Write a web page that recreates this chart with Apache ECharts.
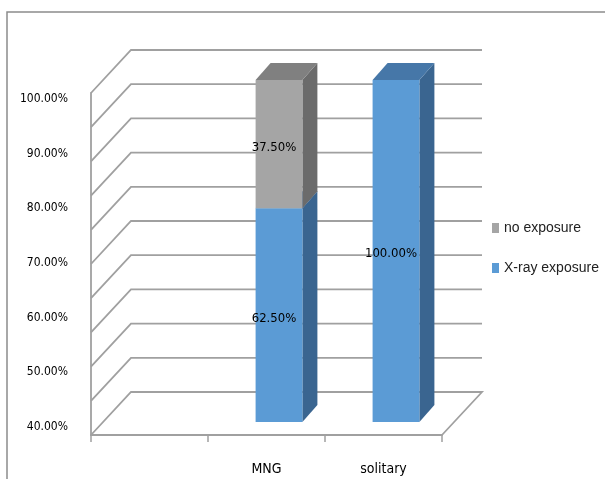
<!DOCTYPE html>
<html>
<head>
<meta charset="utf-8">
<script src="https://cdn.jsdelivr.net/npm/echarts@6/dist/echarts.min.js"></script>
<style>html,body{margin:0;padding:0;background:#fff;}#c{width:605px;height:479px;}</style>
</head>
<body>
<div id="c"></div>
<script>
// ---- data ----
var categories = ['', 'MNG', 'solitary'];
var xrayExposure = [null, 62.5, 100];
var noExposure = [null, 37.5, 0];
var gridValues = [0, 10, 20, 30, 40, 50, 60, 70, 80, 90, 100];
var tickLabelMin = 40, tickLabelMax = 100, tickLabelStep = 10;

var NARROW = "'Liberation Sans Narrow', 'DejaVu Sans Condensed', sans-serif";
var WALL_DX = 40, WALL_DY = -43;
var FACE_DX = 12.5, FACE_DY = -13;
var BAR_DX = 15, BAR_DY = -17;
var LINE = '#a0a0a0';

var xrayData = [], noData = [];
categories.forEach(function (c, i) {
  if (xrayExposure[i] != null) xrayData.push([i, 0, xrayExposure[i]]);
  if (noExposure[i] != null) noData.push([i, xrayExposure[i] || 0, (xrayExposure[i] || 0) + noExposure[i]]);
});

function barRenderer(front, side, topc) {
  return function (params, api) {
    var ci = api.value(0), v0 = api.value(1), v1 = api.value(2);
    if (!(v1 > v0)) return;
    var base = api.coord([ci, v0]);
    var top = api.coord([ci, v1]);
    var band = api.size([1, 0])[0];
    var w = band * 0.4;
    var cx = base[0] + FACE_DX;
    var xl = cx - w / 2, xr = cx + w / 2;
    var yb = base[1] + FACE_DY, yt = top[1] + FACE_DY;
    var val = v1 - v0;
    return {
      type: 'group',
      children: [
        { type: 'polygon', shape: { points: [[xr, yb], [xr + BAR_DX, yb + BAR_DY], [xr + BAR_DX, yt + BAR_DY], [xr, yt]] }, style: { fill: side } },
        { type: 'polygon', shape: { points: [[xl, yt], [xl + BAR_DX, yt + BAR_DY], [xr + BAR_DX, yt + BAR_DY], [xr, yt]] }, style: { fill: topc } },
        { type: 'rect', shape: { x: xl, y: yt, width: w, height: yb - yt }, style: { fill: front } },
        { type: 'text', z2: 10, style: { text: val.toFixed(2) + '%', x: cx - 5, y: (yb + yt) / 2 + 3, align: 'center', verticalAlign: 'middle', fill: '#000', font: '13px ' + NARROW } }
      ]
    };
  };
}

function gridRenderer(params, api) {
  var cs = params.coordSys;
  var v = api.value(0);
  var y = api.coord([0, v])[1];
  var x0 = cs.x, x1 = cs.x + cs.width;
  var pts = [[x0, y], [x0 + WALL_DX, y + WALL_DY], [x1 + WALL_DX, y + WALL_DY]];
  if (v === gridValues[0]) pts.push([x1, y]);
  return { type: 'polyline', shape: { points: pts }, style: { stroke: LINE, lineWidth: 1.8, fill: null } };
}

var chart = echarts.init(document.getElementById('c'));
chart.setOption({
  animation: false,
  backgroundColor: '#fff',
  graphic: [{
    type: 'polyline', silent: true,
    shape: { points: [[7, 479], [7, 12], [605, 12]] },
    style: { stroke: '#8c8c8c', lineWidth: 1.5, fill: null }
  }],
  grid: [
    { left: 91, right: 163, top: 93, bottom: 44 },
    { left: 91, right: 163, top: 99, bottom: 52 }
  ],
  legend: {
    orient: 'vertical', left: 487, top: 216,
    itemWidth: 7, itemHeight: 10, itemGap: 26,
    icon: 'rect',
    data: ['no exposure', 'X-ray exposure'],
    textStyle: { fontFamily: "'Liberation Sans', Arial, sans-serif", fontSize: 14, color: '#222' }
  },
  xAxis: [
    {
      type: 'category', gridIndex: 0, data: categories, boundaryGap: true,
      axisLine: { lineStyle: { color: LINE, width: 1.8 } },
      axisTick: { show: true, length: 7, alignWithLabel: false, lineStyle: { color: LINE, width: 1.5 } },
      axisLabel: { margin: 27, fontSize: 14, color: '#000', fontFamily: NARROW },
      splitLine: { show: false }
    },
    { type: 'category', gridIndex: 1, data: categories, show: false }
  ],
  yAxis: [
    {
      type: 'value', gridIndex: 0, min: 0, max: 100, interval: 10,
      axisLine: { show: true, lineStyle: { color: LINE, width: 1.8 } },
      axisTick: { show: false }, axisLabel: { show: false }, splitLine: { show: false }
    },
    {
      type: 'value', gridIndex: 1, min: tickLabelMin, max: tickLabelMax, interval: tickLabelStep,
      axisLine: { show: false }, axisTick: { show: false }, splitLine: { show: false },
      axisLabel: { margin: 23, fontSize: 12, color: '#000', fontFamily: NARROW, formatter: function (v) { return v.toFixed(2) + '%'; } }
    }
  ],
  series: [
    {
      type: 'custom', name: 'walls', silent: true, xAxisIndex: 0, yAxisIndex: 0,
      data: gridValues.map(function (v) { return [v]; }),
      encode: { y: 0 },
      renderItem: gridRenderer, z: 1
    },
    {
      type: 'custom', name: 'X-ray exposure', xAxisIndex: 0, yAxisIndex: 0,
      itemStyle: { color: '#5b9bd5' },
      data: xrayData, encode: { x: 0, y: [1, 2] },
      renderItem: barRenderer('#5b9bd5', '#3a6590', '#4677a8'), z: 2
    },
    {
      type: 'custom', name: 'no exposure', xAxisIndex: 0, yAxisIndex: 0,
      itemStyle: { color: '#a5a5a5' },
      data: noData, encode: { x: 0, y: [1, 2] },
      renderItem: barRenderer('#a5a5a5', '#6b6b6b', '#808080'), z: 3
    }
  ]
});
</script>
</body>
</html>
